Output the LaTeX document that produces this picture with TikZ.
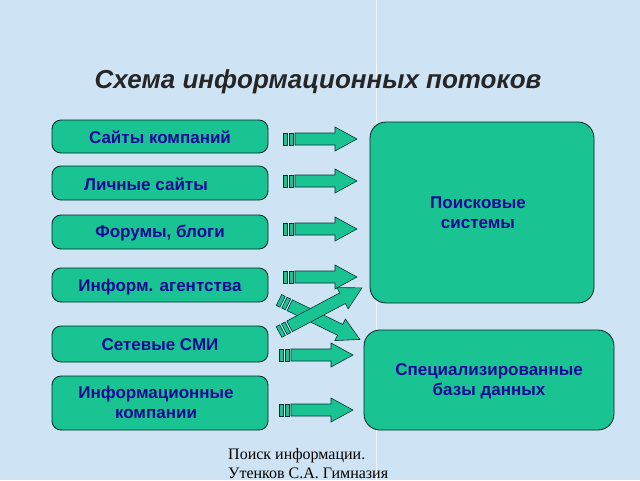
\documentclass[tikz,border=0pt]{standalone}
\usepackage{fontspec}
\setmainfont{Liberation Sans}
\newfontfamily\serifname{Liberation Serif}
\begin{document}
\begin{tikzpicture}[x=1pt,y=-1pt,
  box/.style={draw=black!70!teal,line width=0.8pt,fill=boxg,rounded corners=9pt},
  lbl/.style={text=txtb,font=\bfseries\fontsize{17}{20}\selectfont,align=center},
  pics/flow/.style={code={
    \draw[draw=black!60!teal,fill=boxg,line width=0.6pt] (0,-6) rectangle (4,6) (6,-6) rectangle (10,6);
    \draw[draw=black!60!teal,fill=boxg,line width=0.6pt,line join=miter] (12,-6) -- (#1-22,-6) -- (#1-22,-12) -- (#1,0) -- (#1-22,12) -- (#1-22,6) -- (12,6) -- cycle;
  }}]
\definecolor{boxg}{RGB}{26,196,146}
\definecolor{txtb}{RGB}{10,10,150}
\definecolor{bg}{RGB}{206,228,244}
\clip (0,0) rectangle (640,480);
\fill[bg] (0,0) rectangle (640,480);
\draw[white!70!bg,line width=1pt] (376,0) -- (376,480);
\node[font=\bfseries\itshape\fontsize{26}{30}\selectfont,text=black!85] (title) at (318,82) {Схема информационных потоков};
\draw[box] (52,120) rectangle (268,153);
\node[lbl] (a) at (160,137) {Сайты компаний};
\draw[box] (52,166) rectangle (268,200);
\node[lbl] (b) at (146,184) {Личные сайты};
\draw[box] (52,215) rectangle (268,249);
\node[lbl] (c) at (160,233) {Форумы, блоги};
\draw[box] (52,268) rectangle (268,302);
\node[lbl] (d) at (160,287) {Информ. агентства};
\draw[box] (52,326) rectangle (268,362);
\node[lbl] (e) at (160,345) {Сетевые СМИ};
\draw[box] (52,376) rectangle (268,430);
\node[lbl] (f) at (156,402) {Информационные\\компании};
\draw[box,rounded corners=16pt] (370,122) rectangle (594,303);
\node[lbl] (p) at (478,213) {Поисковые\\системы};
\draw[box,rounded corners=16pt] (364,330) rectangle (614,430);
\node[lbl] (s) at (489,381) {Специализированные\\базы данных};
\pic at (283,139) {flow=74};
\pic at (283,181) {flow=74};
\pic at (283,229) {flow=74};
\pic at (283,277) {flow=74};
\pic[rotate=-26] at (279,300) {flow=90};
\pic[rotate=28] at (279,332) {flow=94};
\pic at (279,355) {flow=74};
\pic at (279,410) {flow=74};
\node[font=\serifname\fontsize{16}{19}\selectfont,anchor=north west,align=left,inner sep=0pt] (ft) at (228,448) {Поиск информации.\\Утенков С.А. Гимназия};
\end{tikzpicture}
\end{document}
